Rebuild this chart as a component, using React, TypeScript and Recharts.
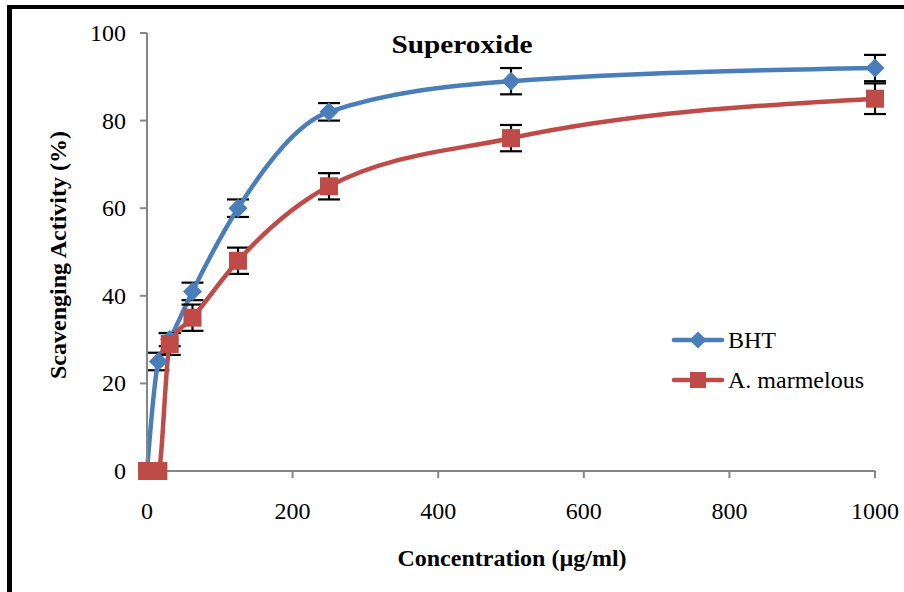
import React from "react";
import { LineChart, Line, XAxis, YAxis, ErrorBar } from "recharts";

const concentrations = [0, 15.6, 31.25, 62.5, 125, 250, 500, 1000];
const bhtValues = [0, 25, 30, 41, 60, 82, 89, 92];
const bhtErrors = [0, 2, 1.5, 2, 2, 2, 3, 3];
const amValues = [0, 0, 29, 35, 48, 65, 76, 85];
const amErrors = [0, 0, 2.5, 3, 3, 3, 3, 3.5];
const xTicks = [0, 200, 400, 600, 800, 1000];
const yTicks = [0, 20, 40, 60, 80, 100];

const BLUE = "#4a7ebb";
const RED = "#be4b48";
const FONT = "'Liberation Serif', 'Times New Roman', serif";

const data = concentrations.map((c, i) => ({
  conc: c,
  bht: bhtValues[i],
  bhtErr: bhtErrors[i],
  am: amValues[i],
  amErr: amErrors[i],
}));

function Diamond(props: any) {
  const { cx, cy } = props;
  if (cx == null || cy == null) return null;
  const r = 9.5;
  return (
    <path
      d={`M${cx},${cy - r} L${cx + r},${cy} L${cx},${cy + r} L${cx - r},${cy} Z`}
      fill={BLUE}
    />
  );
}

function Square(props: any) {
  const { cx, cy } = props;
  if (cx == null || cy == null) return null;
  const s = 18;
  return <rect x={cx - s / 2} y={cy - s / 2} width={s} height={s} fill={RED} />;
}

function XTick(props: any) {
  const { x, y, payload } = props;
  return (
    <text x={x} y={y + 39} textAnchor="middle" fontSize={24} fontFamily={FONT} fill="#000">
      {payload.value}
    </text>
  );
}

function YTick(props: any) {
  const { x, y, payload } = props;
  return (
    <text x={x - 12} y={y + 8} textAnchor="end" fontSize={24} fontFamily={FONT} fill="#000">
      {payload.value}
    </text>
  );
}

function LegendBox() {
  const items = [
    { label: "BHT", color: BLUE, marker: "d" },
    { label: "A. marmelous", color: RED, marker: "s" },
  ];
  return (
    <svg width={230} height={80}>
      {items.map((it, i) => {
        const y = 12 + i * 40;
        return (
          <g key={it.label}>
            <line x1={4} x2={52} y1={y} y2={y} stroke={it.color} strokeWidth={4.5} strokeLinecap="round" />
            {it.marker === "d" ? (
              <path d={`M28,${y - 8.5} L36.5,${y} L28,${y + 8.5} L19.5,${y} Z`} fill={it.color} />
            ) : (
              <rect x={20} y={y - 8} width={16} height={16} fill={it.color} />
            )}
            <text x={58} y={y + 8} fontSize={24} fontFamily={FONT} fill="#000">
              {it.label}
            </text>
          </g>
        );
      })}
    </svg>
  );
}

export default function App() {
  return (
    <div style={{ position: "absolute", left: 0, top: 0, width: 904, height: 592, background: "#fff", overflow: "hidden" }}>
      <div
        style={{
          position: "absolute",
          left: 7,
          top: 5,
          width: 920,
          height: 583,
          borderLeft: "5px solid #000",
          borderTop: "4px solid #000",
          borderBottom: "2px solid #000",
        }}
      />
      <div style={{ position: "absolute", left: 0, top: 0 }}>
        <LineChart width={904} height={592} data={data} margin={{ top: 33, right: 29, bottom: 91, left: 87 }}>
          <XAxis
            dataKey="conc"
            type="number"
            domain={[0, 1000]}
            ticks={xTicks}
            height={30}
            stroke="#868686"
            strokeWidth={2}
            tickSize={7}
            tick={<XTick />}
          />
          <YAxis
            type="number"
            domain={[0, 100]}
            ticks={yTicks}
            width={60}
            stroke="#868686"
            strokeWidth={2}
            tickSize={7}
            tick={<YTick />}
          />
          <Line
            type="monotone"
            dataKey="bht"
            stroke={BLUE}
            strokeWidth={4.5}
            dot={<Diamond />}
            activeDot={false}
            isAnimationActive={false}
          >
            <ErrorBar dataKey="bhtErr" width={11} stroke="#000" strokeWidth={2.2} direction="y" />
          </Line>
          <Line
            type="monotone"
            dataKey="am"
            stroke={RED}
            strokeWidth={4.5}
            dot={<Square />}
            activeDot={false}
            isAnimationActive={false}
          >
            <ErrorBar dataKey="amErr" width={11} stroke="#000" strokeWidth={2.2} direction="y" />
          </Line>
          <text x={462} y={53} textAnchor="middle" fontSize={26} fontWeight="bold" fontFamily={FONT} fill="#000" textLength={141} lengthAdjust="spacingAndGlyphs">
            Superoxide
          </text>
          <text x={512} y={566} textAnchor="middle" fontSize={24} fontWeight="bold" fontFamily={FONT} fill="#000">
            Concentration (µg/ml)
          </text>
          <text
            x={0}
            y={0}
            transform="translate(66, 255) rotate(-90)"
            textAnchor="middle"
            fontSize={24}
            fontWeight="bold"
            fontFamily={FONT}
            fill="#000"
          >
            Scavenging Activity (%)
          </text>
        </LineChart>
      </div>
      <div style={{ position: "absolute", left: 670, top: 328 }}>
        <LegendBox />
      </div>
    </div>
  );
}
